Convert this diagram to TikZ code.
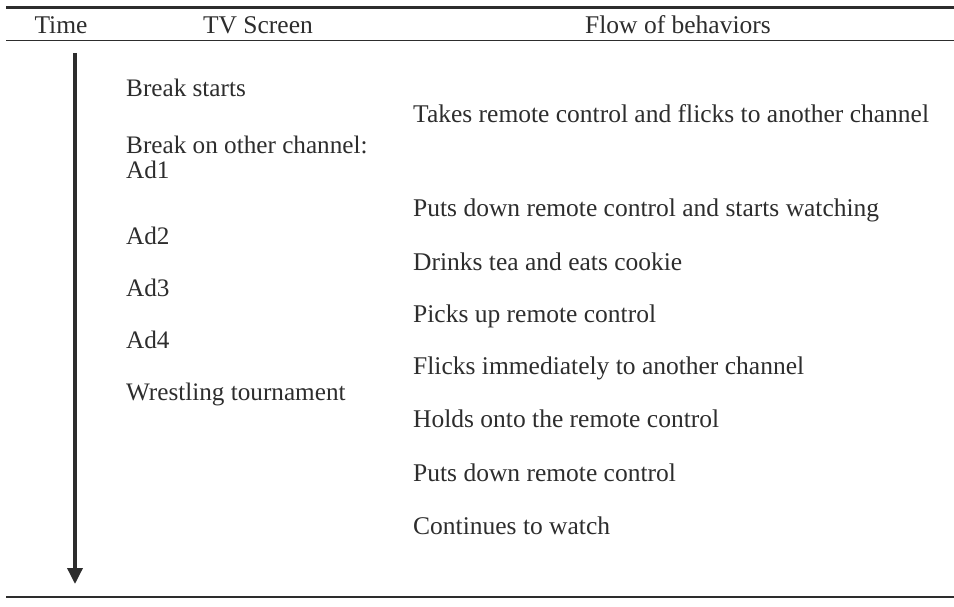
\documentclass[tikz,border=0pt]{standalone}
\usepackage{fontspec}
\setmainfont{Liberation Serif}
\usetikzlibrary{arrows.meta}
\definecolor{ink}{RGB}{45,45,45}
\begin{document}
\begin{tikzpicture}[x=1pt,y=-1pt,
  txt/.style={anchor=base west,inner sep=0pt,text=ink,font=\fontsize{25.2}{30}\selectfont},
  act/.style={txt,font=\fontsize{25.5}{30}\selectfont},
  head/.style={anchor=base,inner sep=0pt,text=ink,font=\fontsize{25.5}{30}\selectfont},
  rule/.style={draw=ink},
  timeline/.style={draw=ink,line width=3.5pt,-{Triangle[length=16pt,width=15pt]}}]
\useasboundingbox (0,0) rectangle (954,607);
% table rules
\draw[rule,line width=2.2pt] (6,7.5) -- (954,7.5);
\draw[rule,line width=1.2pt] (6,40.5) -- (954,40.5);
\draw[rule,line width=2pt] (6,597) -- (954,597);
% header
\node[head] (hTime) at (61,34) {Time};
\node[head] (hTV) at (258,34) {TV Screen};
\node[head] (hFlow) at (678,34) {Flow of behaviors};
% time axis
\coordinate (tTop) at (75,53);
\coordinate (tEnd) at (75,584);
\draw[timeline] (tTop) -- (tEnd);
% TV screen column
\node[txt] (s1) at (126,97) {Break starts};
\node[txt] (s2) at (126,154) {Break on other channel:};
\node[txt] (s3) at (126,179) {Ad1};
\node[txt] (s4) at (126,244) {Ad2};
\node[txt] (s5) at (126,296) {Ad3};
\node[txt] (s6) at (126,348) {Ad4};
\node[txt] (s7) at (126,400) {Wrestling tournament};
% behaviour column
\node[act] (b1) at (413,123) {Takes remote control and flicks to another channel};
\node[act] (b2) at (413,216) {Puts down remote control and starts watching};
\node[act] (b3) at (413,270) {Drinks tea and eats cookie};
\node[act] (b4) at (413,322) {Picks up remote control};
\node[act] (b5) at (413,374) {Flicks immediately to another channel};
\node[act] (b6) at (413,427) {Holds onto the remote control};
\node[act] (b7) at (413,481) {Puts down remote control};
\node[act] (b8) at (413,534) {Continues to watch};
\end{tikzpicture}
\end{document}
